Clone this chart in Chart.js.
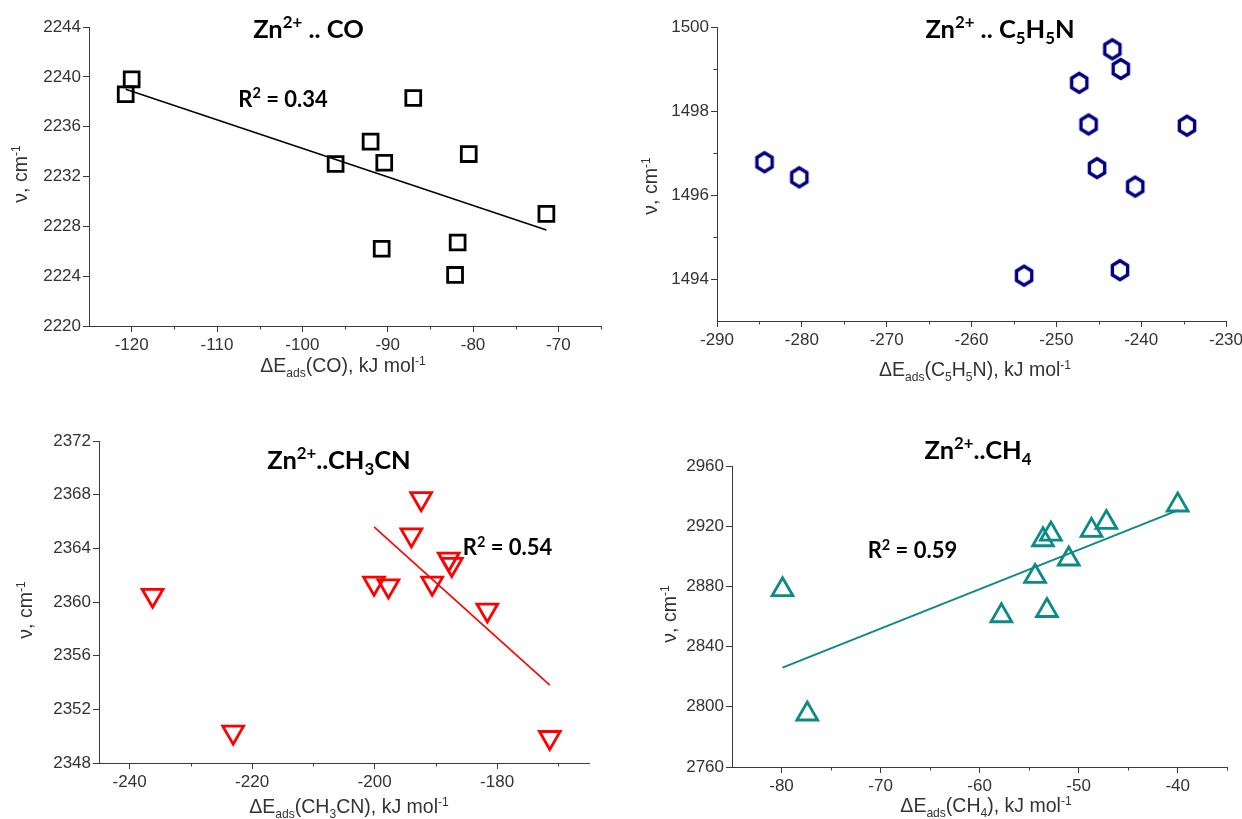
<!DOCTYPE html>
<html><head><meta charset="utf-8">
<script src="https://cdn.jsdelivr.net/npm/chart.js@4.4.1/dist/chart.umd.min.js"></script>
<style>
html,body{margin:0;padding:0;background:#fff;width:1242px;height:819px;overflow:hidden}
canvas{position:absolute;left:0;top:0}
</style></head><body>
<canvas id="c1" width="1242" height="819"></canvas>
<canvas id="c2" width="1242" height="819"></canvas>
<canvas id="c3" width="1242" height="819"></canvas>
<canvas id="c4" width="1242" height="819"></canvas>
<script>
// ---------- DATA ----------
// Panel 1: Zn2+ .. CO
const coX = [-120.7, -120.0, -96.1, -92.0, -90.4, -90.7, -87.0, -80.5, -81.8, -82.1, -71.4];
const coY = [2238.6, 2239.8, 2233.0, 2234.8, 2233.1, 2226.2, 2238.3, 2233.8, 2226.7, 2224.1, 2229.0];
const coFitX = [-120.7, -71.4];
const coFitY = [2239.0, 2227.7];
const coXTicks = [-120, -110, -100, -90, -80, -70];
const coXMinor = [-115, -105, -95, -85, -75, -65];
const coYTicks = [2220, 2224, 2228, 2232, 2236, 2240, 2244];

// Panel 2: Zn2+ .. C5H5N
const pyX = [-284.4, -280.3, -253.8, -247.3, -243.4, -242.4, -246.2, -245.2, -240.7, -242.5, -234.6];
const pyY = [1496.78, 1496.42, 1494.08, 1498.67, 1499.47, 1499.0, 1497.68, 1496.64, 1496.2, 1494.21, 1497.65];
const pyXTicks = [-290, -280, -270, -260, -250, -240, -230];
const pyXMinor = [-285, -275, -265, -255, -245, -235];
const pyYTicks = [1494, 1496, 1498, 1500];
const pyYMinor = [1495, 1497, 1499];

// Panel 3: Zn2+ .. CH3CN
const acX = [-236.25, -223.1, -200.1, -197.75, -194.0, -192.4, -190.6, -187.9, -187.4, -181.6, -171.4];
const acY = [2360.5, 2350.3, 2361.4, 2361.2, 2365.0, 2367.7, 2361.4, 2363.2, 2362.8, 2359.4, 2349.9];
const acFitX = [-200.1, -171.4];
const acFitY = [2365.6, 2353.8];
const acXTicks = [-240, -220, -200, -180];
const acXMinor = [-230, -210, -190, -170];
const acYTicks = [2348, 2352, 2356, 2360, 2364, 2368, 2372];

// Panel 4: Zn2+ .. CH4
const meX = [-79.9, -77.4, -57.8, -54.4, -53.6, -52.8, -53.2, -51.0, -48.7, -47.2, -40.0];
const meY = [2877.8, 2795.2, 2860.5, 2886.6, 2911.0, 2914.8, 2864.0, 2898.2, 2917.2, 2922.5, 2934.1];
const meFitX = [-79.9, -40.0];
const meFitY = [2826, 2930.5];
const meXTicks = [-80, -70, -60, -50, -40];
const meXMinor = [-75, -65, -55, -45, -35];
const meYTicks = [2760, 2800, 2840, 2880, 2920, 2960];

// ---------- STYLE ----------
const AX = '#3a3a3a';
const TXT = '#333333';
const FAM = "'Liberation Sans', Arial, sans-serif";
const BOLD = "Lato, 'Open Sans', sans-serif";

function drawRich(ctx, segs, x, y, o) {
  const base = o.size;
  const parts = segs.map(s => {
    const t = s[0], m = s[1] || 'n';
    const sz = m === 'n' ? base : base * (o.small || 0.62);
    const dy = m === 'sup' ? -base * 0.38 : (m === 'sub' ? base * 0.24 : 0);
    const font = (o.weight || 'normal') + ' ' + sz + 'px ' + o.family;
    ctx.font = font;
    return {t, font, dy, w: ctx.measureText(t).width};
  });
  const total = parts.reduce((a, p) => a + p.w, 0);
  ctx.save();
  ctx.translate(x, y);
  if (o.rotate) ctx.rotate(o.rotate);
  ctx.fillStyle = o.color || '#000';
  ctx.textBaseline = 'alphabetic';
  ctx.textAlign = 'left';
  let cx = o.align === 'center' ? -total / 2 : 0;
  for (const p of parts) { ctx.font = p.font; ctx.fillText(p.t, cx, p.dy); cx += p.w; }
  ctx.restore();
}

const richPlugin = {
  id: 'rich',
  afterDraw(chart, args, opts) {
    const a = chart.chartArea, ctx = chart.ctx;
    for (const it of (opts.items || [])) {
      let x, y;
      if (it.data) { x = chart.scales.x.getPixelForValue(it.data[0]); y = chart.scales.y.getPixelForValue(it.data[1]); }
      else { x = a.left + it.rel[0]; y = a.top + it.rel[1]; }
      drawRich(ctx, it.segs, x, y, it);
    }
  }
};

const minorPlugin = {
  id: 'minor',
  afterDraw(chart, args, opts) {
    const a = chart.chartArea, ctx = chart.ctx;
    ctx.save(); ctx.strokeStyle = AX; ctx.lineWidth = 1;
    (opts.x || []).forEach(v => {
      const p = Math.round(chart.scales.x.getPixelForValue(v)) + 0.5;
      ctx.beginPath(); ctx.moveTo(p, a.bottom); ctx.lineTo(p, a.bottom + 3.5); ctx.stroke();
    });
    (opts.y || []).forEach(v => {
      const p = Math.round(chart.scales.y.getPixelForValue(v)) + 0.5;
      ctx.beginPath(); ctx.moveTo(a.left, p); ctx.lineTo(a.left - 3.5, p); ctx.stroke();
    });
    ctx.restore();
  }
};

function hexImage(color) {
  const c = document.createElement('canvas');
  c.width = 26; c.height = 28;
  const g = c.getContext('2d');
  g.strokeStyle = color; g.lineWidth = 3.4; g.fillStyle = '#ffffff';
  const R = 8.8, cx = 13, cy = 14, sy = 1.08;
  g.beginPath();
  for (let k = 0; k < 6; k++) {
    const ang = Math.PI / 2 + k * Math.PI / 3;
    const px = cx + R * Math.cos(ang), py = cy - R * sy * Math.sin(ang);
    if (k) g.lineTo(px, py); else g.moveTo(px, py);
  }
  g.closePath(); g.fill(); g.stroke();
  return c;
}

function pts(xs, ys) { return xs.map((x, i) => ({x, y: ys[i]})); }

function makeChart(id, c) {
  const [L, T, R, B] = c.area;
  const WY = 60, HX = 45;
  const datasets = [];
  if (c.fitX) datasets.push({
    data: pts(c.fitX, c.fitY), showLine: true, borderColor: c.lineColor, borderWidth: c.lineWidth,
    pointRadius: 0, fill: false, clip: false, order: 2
  });
  datasets.push({
    data: pts(c.xs, c.ys), showLine: false, pointStyle: c.pointStyle, pointRadius: c.r,
    rotation: c.rot || 0, pointRotation: c.rot || 0,
    borderColor: c.color, pointBorderColor: c.color, pointBackgroundColor: c.fill || 'rgba(255,255,255,0)',
    pointBorderWidth: c.bw, clip: false, order: 1
  });
  const axis = (ticks, min, max, isX) => ({
    type: 'linear', position: isX ? 'bottom' : 'left', min, max,
    afterBuildTicks: s => { s.ticks = ticks.map(v => ({value: v})); },
    afterFit: s => {
      if (isX) s.height = HX; else s.width = WY;
      s.paddingLeft = 0; s.paddingRight = 0; s.paddingTop = 0; s.paddingBottom = 0;
    },
    grid: { drawOnChartArea: false, drawTicks: true, tickLength: 6, color: AX, tickColor: AX, tickWidth: 1 },
    border: { display: true, color: AX, width: 1 },
    ticks: {
      font: { family: FAM, size: 17 }, color: TXT, padding: isX ? 3 : 2, maxRotation: 0, autoSkip: false,
      callback: v => String(v)
    }
  });
  return new Chart(document.getElementById(id), {
    type: 'scatter',
    data: { datasets },
    options: {
      responsive: false, animation: false, devicePixelRatio: 1, events: [],
      layout: { padding: { left: L - WY, top: T, right: 1242 - R, bottom: 819 - B - HX } },
      plugins: {
        legend: { display: false }, tooltip: { enabled: false },
        minor: { x: c.xMinor, y: c.yMinor },
        rich: { items: c.texts }
      },
      scales: { x: axis(c.xTicks, c.xMin, c.xMax, true), y: axis(c.yTicks, c.yMin, c.yMax, false) }
    },
    plugins: [minorPlugin, richPlugin]
  });
}

const titleFont = { family: BOLD, weight: 'bold', size: 25.5, small: 0.66, align: 'center', color: '#000' };
const r2Font = { family: BOLD, weight: 'bold', size: 22, small: 0.66, align: 'left', color: '#000' };
const axFont = { family: FAM, size: 19.5, align: 'center', color: TXT };
const yFont = Object.assign({}, axFont, { rotate: -Math.PI / 2 });

makeChart('c1', {
  area: [89, 27, 601, 326], xMin: -125, xMax: -65, yMin: 2220, yMax: 2244,
  xTicks: coXTicks, xMinor: coXMinor, yTicks: coYTicks,
  xs: coX, ys: coY, fitX: coFitX, fitY: coFitY, lineColor: '#000', lineWidth: 1.6,
  pointStyle: 'rect', r: 10.5, bw: 2.8, color: '#000',
  texts: [
    Object.assign({ segs: [['Zn'], ['2+', 'sup'], [' .. CO']], rel: [219.5, 11] }, titleFont),
    Object.assign({ segs: [['R'], ['2', 'sup'], [' = 0.34']], data: [-107.5, 2237.6] }, r2Font),
    Object.assign({ segs: [['\u0394E'], ['ads', 'sub'], ['(CO), kJ mol'], ['-1', 'sup']], rel: [254, 345] }, axFont),
    Object.assign({ segs: [['\u03bd, cm'], ['-1', 'sup']], rel: [-62, 147] }, yFont)
  ]
});

makeChart('c2', {
  area: [717, 27, 1226, 321], xMin: -290, xMax: -230, yMin: 1493, yMax: 1500,
  xTicks: pyXTicks, xMinor: pyXMinor, yTicks: pyYTicks, yMinor: pyYMinor,
  xs: pyX, ys: pyY,
  pointStyle: hexImage('#000080'), r: 9, bw: 3, color: '#000080',
  texts: [
    Object.assign({ segs: [['Zn'], ['2+', 'sup'], [' .. C'], ['5', 'sub'], ['H'], ['5', 'sub'], ['N']], rel: [283, 10.5] }, titleFont),
    Object.assign({ segs: [['\u0394E'], ['ads', 'sub'], ['(C'], ['5', 'sub'], ['H'], ['5', 'sub'], ['N), kJ mol'], ['-1', 'sup']], rel: [258, 349] }, axFont),
    Object.assign({ segs: [['\u03bd, cm'], ['-1', 'sup']], rel: [-60, 159] }, yFont)
  ]
});

makeChart('c3', {
  area: [99, 441, 589, 763], xMin: -245, xMax: -165, yMin: 2348, yMax: 2372,
  xTicks: acXTicks, xMinor: acXMinor, yTicks: acYTicks,
  xs: acX, ys: acY, fitX: acFitX, fitY: acFitY, lineColor: '#ff0000', lineWidth: 1.6,
  pointStyle: 'triangle', rot: 180, r: 12, bw: 2.8, color: '#ff0000',
  texts: [
    Object.assign({ segs: [['Zn'], ['2+', 'sup'], ['..CH'], ['3', 'sub'], ['CN']], rel: [240, 28] }, titleFont),
    Object.assign({ segs: [['R'], ['2', 'sup'], [' = 0.54']], data: [-185.6, 2363.5] }, r2Font),
    Object.assign({ segs: [['\u0394E'], ['ads', 'sub'], ['(CH'], ['3', 'sub'], ['CN), kJ mol'], ['-1', 'sup']], rel: [250, 372] }, axFont),
    Object.assign({ segs: [['\u03bd, cm'], ['-1', 'sup']], rel: [-67, 169] }, yFont)
  ]
});

makeChart('c4', {
  area: [732, 466, 1240, 767], xMin: -85, xMax: -35, yMin: 2760, yMax: 2960,
  xTicks: meXTicks, xMinor: meXMinor, yTicks: meYTicks,
  xs: meX, ys: meY, fitX: meFitX, fitY: meFitY, lineColor: '#0c8a88', lineWidth: 2,
  pointStyle: 'triangle', r: 12, bw: 2.8, color: '#0c8a88',
  texts: [
    Object.assign({ segs: [['Zn'], ['2+', 'sup'], ['..CH'], ['4', 'sub']], rel: [246, -7] }, titleFont),
    Object.assign({ segs: [['R'], ['2', 'sup'], [' = 0.59']], data: [-71.3, 2898.9] }, r2Font),
    Object.assign({ segs: [['\u0394E'], ['ads', 'sub'], ['(CH'], ['4', 'sub'], ['), kJ mol'], ['-1', 'sup']], rel: [254, 346] }, axFont),
    Object.assign({ segs: [['\u03bd, cm'], ['-1', 'sup']], rel: [-56, 148] }, yFont)
  ]
});
</script>
</body></html>
